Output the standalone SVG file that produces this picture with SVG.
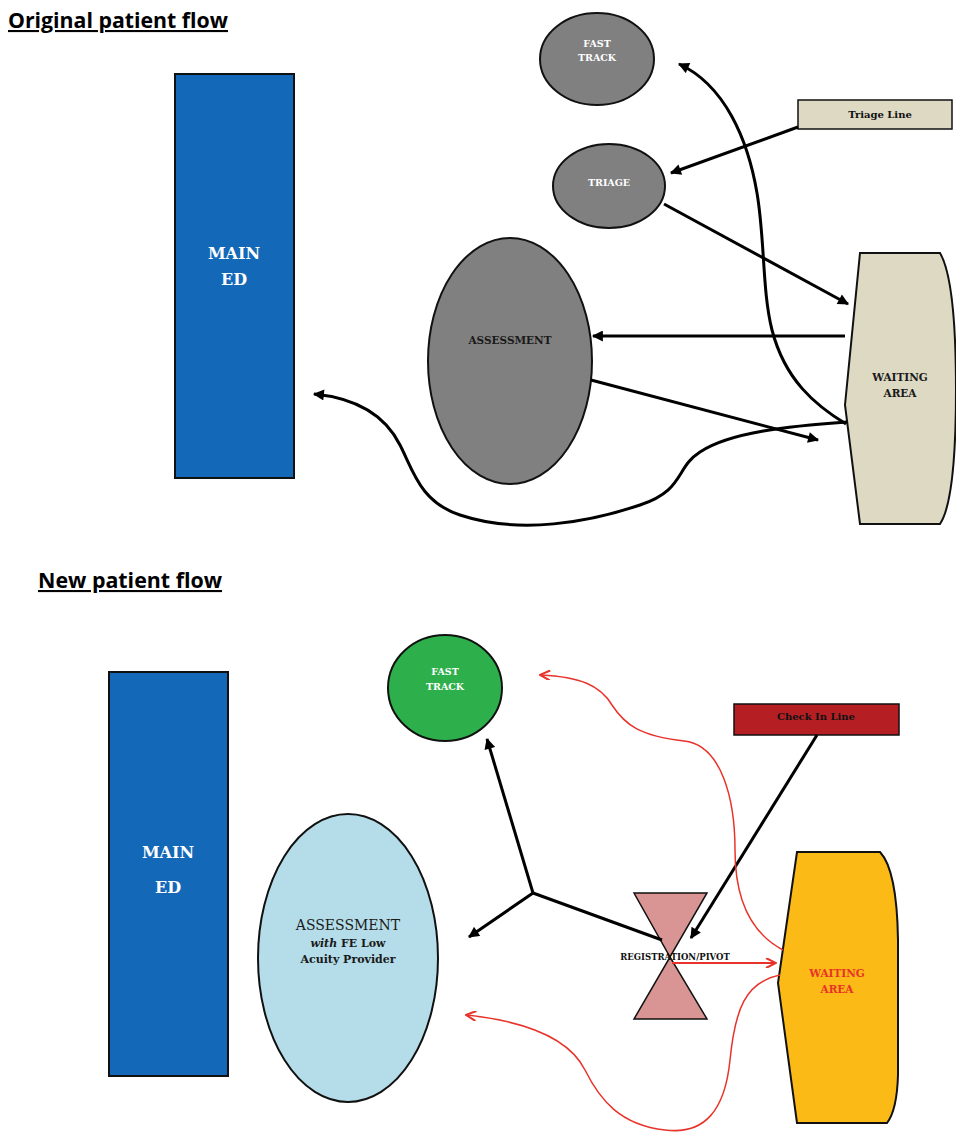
<svg xmlns="http://www.w3.org/2000/svg" width="956" height="1134" viewBox="0 0 956 1134">
<style>
.title{font-family:"Open Sans","Liberation Sans",sans-serif;font-weight:bold;font-size:21px;fill:#000;text-decoration:underline}
.lbl{font-family:"DejaVu Serif","Liberation Serif",serif;font-weight:bold;text-anchor:middle}
.node{stroke:#111;stroke-width:2}
.blk{fill:none;stroke:#000;stroke-width:3}
.red{fill:none;stroke:#E8332A;stroke-width:1.5}
</style>
<defs>
<marker id="ah" viewBox="0 0 10 10" refX="9" refY="5" markerWidth="13" markerHeight="11" markerUnits="userSpaceOnUse" orient="auto">
<path d="M0,0 L10,5 L0,10 z" fill="#000"/>
</marker>
<marker id="ahr" viewBox="0 0 10 10" refX="9" refY="5" markerWidth="12" markerHeight="10" markerUnits="userSpaceOnUse" orient="auto">
<path d="M0,0 L10,5 L0,10" fill="none" stroke="#E8332A" stroke-width="2"/>
</marker>
</defs>
<rect width="956" height="1134" fill="#fff"/>

<text class="title" x="8" y="28" textLength="220" lengthAdjust="spacingAndGlyphs">Original patient flow</text>
<text class="title" x="38" y="588" textLength="184" lengthAdjust="spacingAndGlyphs">New patient flow</text>

<!-- top section nodes -->
<g id="main-ed-1">
<rect x="175" y="74" width="119" height="404" fill="#1468B8" class="node"/>
<text class="lbl" x="234" y="259" font-size="16" fill="#fff">MAIN</text>
<text class="lbl" x="234" y="285" font-size="16" fill="#fff">ED</text>
</g>
<g id="fast-track-1">
<ellipse cx="597" cy="59" rx="57" ry="46" fill="#808080" class="node"/>
<text class="lbl" x="597" y="47" font-size="9.5" fill="#fff">FAST</text>
<text class="lbl" x="597" y="61" font-size="9.5" fill="#fff">TRACK</text>
</g>
<g id="triage-line">
<rect x="798" y="100" width="154" height="29" fill="#DDD9C3" stroke="#111" stroke-width="1.5"/>
<text class="lbl" x="880" y="118" font-size="10" fill="#111">Triage Line</text>
</g>
<g id="triage">
<ellipse cx="609" cy="186" rx="56" ry="42" fill="#808080" class="node"/>
<text class="lbl" x="609" y="186" font-size="9.5" fill="#fff">TRIAGE</text>
</g>
<g id="assessment-1">
<ellipse cx="510" cy="361" rx="82" ry="123" fill="#808080" class="node"/>
<text class="lbl" x="510" y="344" font-size="10.5" fill="#1a1a1a">ASSESSMENT</text>
</g>
<g id="waiting-1">
<path d="M860 253 L940 253 Q956 280 956 390 Q956 500 940 524 L860 524 L845 405 Z" fill="#DDD9C3" class="node"/>
<text class="lbl" x="900" y="381" font-size="10.5" fill="#1a1a1a">WAITING</text>
<text class="lbl" x="900" y="397" font-size="10.5" fill="#1a1a1a">AREA</text>
</g>

<!-- bottom section nodes -->
<g id="main-ed-2">
<rect x="109" y="672" width="119" height="404" fill="#1468B8" class="node"/>
<text class="lbl" x="168" y="858" font-size="16" fill="#fff">MAIN</text>
<text class="lbl" x="168" y="893" font-size="16" fill="#fff">ED</text>
</g>
<g id="fast-track-2">
<ellipse cx="445" cy="688" rx="57" ry="53" fill="#2DB04B" class="node"/>
<text class="lbl" x="445" y="675" font-size="9.5" fill="#fff">FAST</text>
<text class="lbl" x="445" y="690" font-size="9.5" fill="#fff">TRACK</text>
</g>
<g id="check-in-line">
<rect x="734" y="704" width="165" height="31" fill="#B51F24" stroke="#111" stroke-width="1.5"/>
<text class="lbl" x="816" y="720" font-size="10" fill="#111">Check In Line</text>
</g>
<g id="assessment-2">
<ellipse cx="348" cy="958" rx="90" ry="144" fill="#B4DDE9" class="node"/>
<text class="lbl" x="348" y="930" font-size="14" fill="#1a1a1a" style="font-weight:normal">ASSESSMENT</text>
<text class="lbl" x="348" y="947" font-size="11" fill="#1a1a1a"><tspan font-style="italic">with</tspan> FE Low</text>
<text class="lbl" x="348" y="963" font-size="11" fill="#1a1a1a">Acuity Provider</text>
</g>
<g id="registration">
<path d="M634 893 L707 893 L670 957 Z M634 1019 L707 1019 L670 957 Z" fill="#D99594" stroke="#111" stroke-width="1.5"/>
<text class="lbl" x="675" y="960" font-size="8.5" fill="#111">REGISTRATION/PIVOT</text>
</g>
<g id="waiting-2">
<path d="M797 852 L880 852 Q897 870 898 940 L898 1075 Q897 1110 887 1123 L797 1123 L778 983 Z" fill="#FBBA16" class="node"/>
<text class="lbl" x="837" y="977" font-size="10.5" fill="#E8332A">WAITING</text>
<text class="lbl" x="837" y="993" font-size="10.5" fill="#E8332A">AREA</text>
</g>

<g id="connectors">
<!-- top -->
<line class="blk" x1="798" y1="127" x2="671" y2="173" marker-end="url(#ah)"/>
<line class="blk" x1="664" y1="204" x2="848" y2="304" marker-end="url(#ah)"/>
<line class="blk" x1="845" y1="336" x2="593" y2="336" marker-end="url(#ah)"/>
<line class="blk" x1="591" y1="380" x2="818" y2="440" marker-end="url(#ah)"/>
<path class="blk" d="M846 424 C815 405 785 380 772 330 C762 290 765 240 757 193 C748 140 725 85 679 64" marker-end="url(#ah)"/>
<path class="blk" d="M847 422 C790 426 730 432 700 452 C675 468 685 490 640 505 C590 522 520 535 460 515 C420 502 413 470 400 445 C385 415 355 398 314 394" marker-end="url(#ah)"/>
<!-- bottom -->
<line class="blk" x1="817" y1="735" x2="691" y2="938" marker-end="url(#ah)"/>
<line class="blk" x1="662" y1="940" x2="533" y2="893"/>
<line class="blk" x1="533" y1="893" x2="487" y2="739" marker-end="url(#ah)"/>
<line class="blk" x1="533" y1="893" x2="469" y2="937" marker-end="url(#ah)"/>
<line x1="672" y1="963" x2="775" y2="963" stroke="#E8332A" stroke-width="2" marker-end="url(#ahr)"/>
<path class="red" d="M783 950 C745 930 735 890 735 850 C735 800 722 745 684 741 C640 736 625 725 612 705 C600 685 580 677 541 675" marker-end="url(#ahr)"/>
<path class="red" d="M780 975 C745 982 735 1010 730 1060 C725 1110 705 1135 665 1130 C620 1125 600 1100 585 1070 C570 1040 530 1022 467 1015" marker-end="url(#ahr)"/>
</g>
</svg>
